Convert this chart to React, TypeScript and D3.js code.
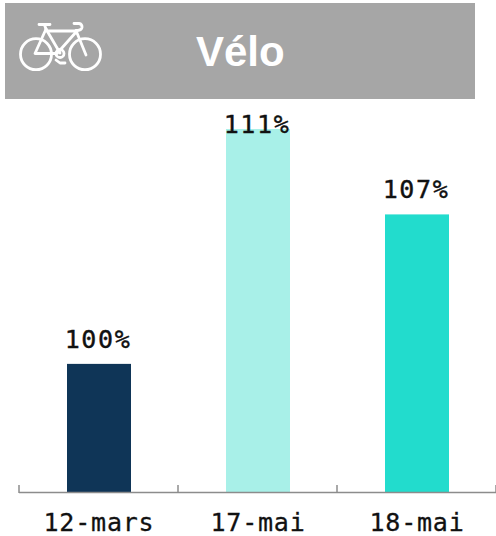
import React from "react";
import * as d3 from "d3";

const categories = ["12-mars", "17-mai", "18-mai"];
const values = [100, 111, 107];
const colors = ["#0f3557", "#a8f0e8", "#22dccd"];
const title = "Vélo";

const W = 496, H = 536;
const x = d3.scaleBand<string>().domain(categories).range([19, 496]).paddingInner(0).paddingOuter(0);
const y = d3.scaleLinear().domain([94, 111]).range([492, 129]);
const barW = 64;
const mono = "'DejaVu Sans Mono', monospace";

function Bike() {
  return (
    <g fill="none" stroke="#fff" strokeWidth={2.8} strokeLinecap="round" strokeLinejoin="round">
      <circle cx={36} cy={54.2} r={15.5} />
      <circle cx={85} cy={54.2} r={15.5} />
      <path d="M46 29 L35 53.5 H57 L77 31 H47" />
      <path d="M46 29 L60 53" />
      <path d="M39 24.5 H50 M44.5 25 L46 29" />
      <path d="M74 23.5 H79 Q82.5 24 82 27.5 Q81.5 30.5 76 30.5 L86 55" />
      <circle cx={60} cy={53.5} r={4} />
      <path d="M56 60 L60 63 H65" />
    </g>
  );
}

export default function App() {
  const ticks = [...categories.map((c) => x(c)!), 496];
  const labelBaselines = [347.5, 133, 198];
  return (
    <svg width={W} height={H} style={{ position: "absolute", left: 0, top: 0 }}>
      <rect x={5} y={3} width={470} height={96} fill="#a6a6a6" />
      <Bike />
      <text x={196} y={66} fontFamily="'Liberation Sans', Arial, sans-serif" fontWeight={700} fontSize={42} fill="#fff">{title}</text>
      {categories.map((c, i) => {
        const cx = x(c)! + x.bandwidth() / 2 + 0.5;
        return (
          <g key={c}>
            <rect x={Math.round(cx - barW / 2)} y={y(values[i])} width={barW} height={492 - y(values[i])} fill={colors[i]} />
            <text x={cx - 1} y={labelBaselines[i]} textAnchor="middle" fontFamily={mono} fontSize={25} letterSpacing={1.6} stroke="#111" strokeWidth={0.4} fill="#111">{values[i]}%</text>
            <text x={cx} y={531} textAnchor="middle" fontFamily={mono} fontSize={25} letterSpacing={0.8} stroke="#111" strokeWidth={0.3} fill="#111">{c}</text>
          </g>
        );
      })}
      <line x1={19} x2={496} y1={492.5} y2={492.5} stroke="#8c8c8c" strokeWidth={1.5} />
      {ticks.map((t) => (
        <line key={t} x1={t} x2={t} y1={485} y2={493} stroke="#8c8c8c" strokeWidth={1.5} />
      ))}
    </svg>
  );
}
